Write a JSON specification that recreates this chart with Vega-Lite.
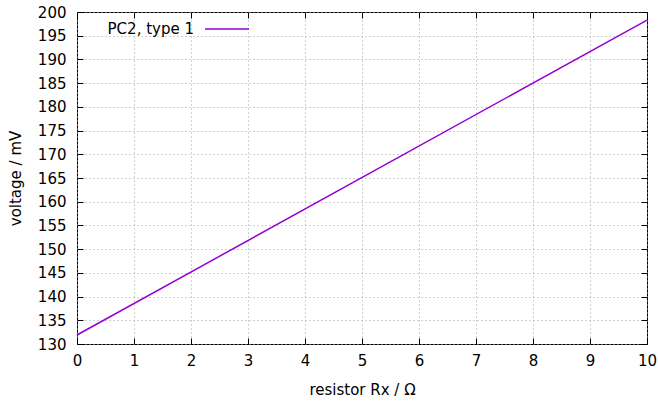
{
  "$schema": "https://vega.github.io/schema/vega-lite/v6.json",
  "autosize": "none",
  "width": 570,
  "height": 332,
  "padding": {"left": 77, "top": 12, "right": 11, "bottom": 57},
  "background": "white",
  "config": {
    "font": "DejaVu Sans",
    "view": {"stroke": "black", "strokeWidth": 1},
    "axis": {
      "labelFont": "DejaVu Sans",
      "titleFont": "DejaVu Sans",
      "labelFontSize": 15,
      "titleFontSize": 15,
      "titleFontWeight": "normal",
      "labelColor": "black",
      "titleColor": "black",
      "domain": false,
      "tickColor": "black",
      "tickSize": -6,
      "tickWidth": 1,
      "labelOverlap": false,
      "gridColor": "#a0a0a0",
      "gridDash": [1, 3],
      "gridOpacity": 1,
      "gridWidth": 1
    }
  },
  "data": {"values": [
    {"r": 0, "v": 131.9, "s": "PC2, type 1"},
    {"r": 10, "v": 198.3, "s": "PC2, type 1"}
  ]},
  "layer": [
    {
      "mark": {"type": "line", "strokeWidth": 1.5},
      "encoding": {
        "x": {"field": "r", "type": "quantitative", "scale": {"domain": [0, 10], "nice": false},
          "axis": {"title": "resistor Rx / Ω", "orient": "bottom", "grid": true, "values": [0,1,2,3,4,5,6,7,8,9,10], "labelPadding": 15, "titlePadding": 14, "labelFlush": false}},
        "y": {"field": "v", "type": "quantitative", "scale": {"domain": [130, 200], "nice": false, "zero": false},
          "axis": {"title": "voltage / mV", "orient": "left", "grid": true, "values": [130,135,140,145,150,155,160,165,170,175,180,185,190,195,200], "labelPadding": 17, "titlePadding": 14, "labelFlush": false}},
        "color": {"field": "s", "type": "nominal", "scale": {"range": ["#9400d3"]},
          "legend": {"title": null, "orient": "none", "legendX": 127, "legendY": -6, "symbolType": "stroke", "symbolSize": 1936, "symbolStrokeWidth": 1.5, "labelAlign": "right", "labelOffset": -56, "labelFontSize": 15, "labelFont": "DejaVu Sans", "labelColor": "black", "padding": 0}}
      }
    },
    {
      "mark": {"type": "line", "strokeWidth": 0, "opacity": 0},
      "encoding": {
        "x": {"field": "r", "type": "quantitative", "scale": {"domain": [0, 10], "nice": false},
          "axis": {"orient": "top", "title": null, "labels": false, "grid": false, "values": [0,1,2,3,4,5,6,7,8,9,10]}},
        "y": {"field": "v", "type": "quantitative", "scale": {"domain": [130, 200], "nice": false, "zero": false},
          "axis": {"orient": "right", "title": null, "labels": false, "grid": false, "values": [130,135,140,145,150,155,160,165,170,175,180,185,190,195,200]}}
      }
    }
  ],
  "resolve": {"axis": {"x": "independent", "y": "independent"}}
}
